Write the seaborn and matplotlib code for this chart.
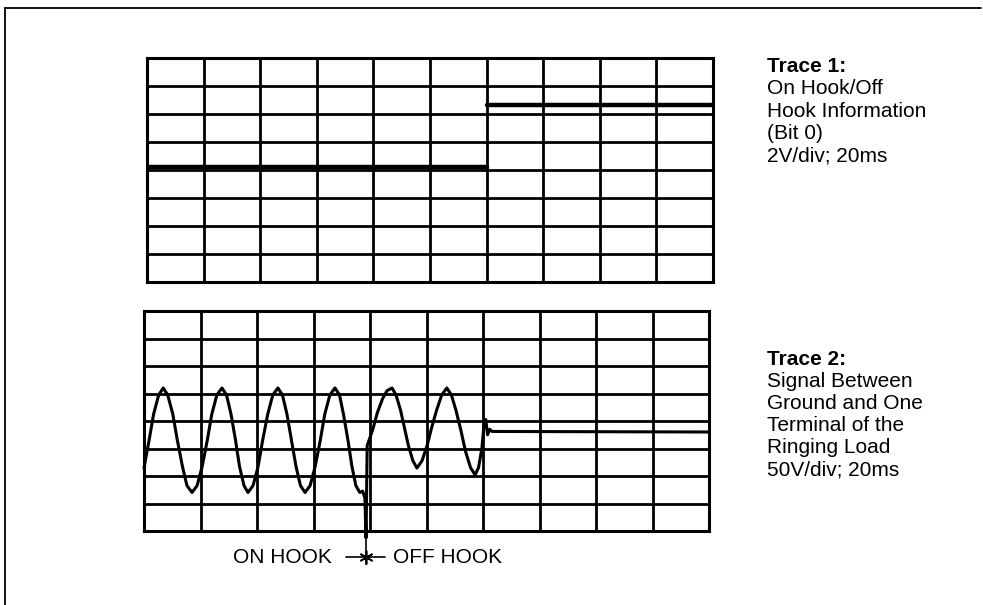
import numpy as np
import pandas as pd
import matplotlib
matplotlib.use("Agg")
import matplotlib.pyplot as plt
import seaborn as sns
from matplotlib.lines import Line2D

# ---------------- data (x in divisions, y in divisions) -------------
trace1_seg = [0, 0, 1, 1]
trace1_x = [0.0, 6.0, 6.0, 10.0]
trace1_y = [4.12, 4.12, 6.32, 6.32]

trace2_x = [0.00, 0.09, 0.17, 0.26, 0.34, 0.42, 0.51, 0.59, 0.68, 0.76, 0.85,
            0.94, 1.03, 1.12, 1.20, 1.29, 1.38, 1.46, 1.54, 1.62, 1.69, 1.77, 1.84,
            1.93, 2.02, 2.10, 2.19, 2.28, 2.37, 2.45, 2.53, 2.61, 2.69, 2.77, 2.85,
            2.94, 3.03, 3.12, 3.20, 3.29, 3.38, 3.46, 3.53, 3.61, 3.68, 3.75, 3.82,
            3.87, 3.91, 3.93, 3.95, 4.05, 4.13, 4.22, 4.30, 4.39,
            4.46, 4.54, 4.61, 4.68, 4.76, 4.83,
            4.92, 5.01, 5.09, 5.18, 5.27, 5.36, 5.44, 5.52, 5.61, 5.69, 5.78, 5.86,
            5.92, 5.98, 6.02, 6.05, 6.08, 6.12, 6.16, 10.0]
trace2_y = [2.29, 3.30, 4.25, 4.95, 5.20, 4.95, 4.25, 3.30, 2.35, 1.65, 1.40,
            1.65, 2.35, 3.30, 4.25, 4.95, 5.20, 4.95, 4.25, 3.30, 2.35, 1.65, 1.40,
            1.65, 2.35, 3.30, 4.25, 4.95, 5.20, 4.95, 4.25, 3.30, 2.35, 1.65, 1.40,
            1.65, 2.35, 3.30, 4.25, 4.95, 5.20, 4.95, 4.25, 3.30, 2.35, 1.65, 1.40,
            1.45, 1.20, -0.25, 3.10, 3.70, 4.30, 4.80, 5.10, 5.20,
            4.95, 4.40, 3.75, 3.10, 2.55, 2.29,
            2.55, 3.10, 3.75, 4.40, 4.95, 5.20, 4.95, 4.40, 3.65, 2.90, 2.30, 2.04,
            2.30, 3.00, 3.90, 4.05, 3.50, 3.70, 3.62, 3.60]

x_divs = list(range(11))
y_divs = list(range(9))

trace1_text = ["Trace 1:", "On Hook/Off", "Hook Information", "(Bit 0)", "2V/div; 20ms"]
trace2_text = ["Trace 2:", "Signal Between", "Ground and One", "Terminal of the",
               "Ringing Load", "50V/div; 20ms"]
on_label = "ON HOOK"
off_label = "OFF HOOK"
switch_x = 3.93

# ---------------- figure ----------------
sns.set_theme(style="white")
plt.rcParams["font.family"] = ["Liberation Sans", "DejaVu Sans"]
plt.rcParams["text.color"] = "black"

W, H = 983, 605
fig = plt.figure(figsize=(W / 100, H / 100), dpi=100)
fig.patch.set_facecolor("white")

def fx(px):
    return px / W

def fy(py):
    return 1 - py / H

ax1 = fig.add_axes([fx(147), fy(282), fx(713) - fx(147), fy(58) - fy(282)])
ax2 = fig.add_axes([fx(144), fy(531), fx(709) - fx(144), fy(311) - fy(531)])

for ax in (ax1, ax2):
    ax.set_xlim(0, 10)
    ax.set_ylim(0, 8)
    ax.set_xticks(x_divs)
    ax.set_yticks(y_divs)
    ax.tick_params(length=0, labelbottom=False, labelleft=False)
    ax.grid(True, color="black", linewidth=2.0)
    ax.set_axisbelow(True)
    for s in ax.spines.values():
        s.set_color("black")
        s.set_linewidth(2.2)
    ax.set_facecolor("white")

df1 = pd.DataFrame({"x": trace1_x, "y": trace1_y, "seg": trace1_seg})
sns.lineplot(data=df1, x="x", y="y", units="seg", estimator=None, sort=False,
             color="black", linewidth=3.2, ax=ax1)

df2 = pd.DataFrame({"x": trace2_x, "y": trace2_y})
sns.lineplot(data=df2, x="x", y="y", sort=False, estimator=None,
             color="black", linewidth=2.2, ax=ax2)
for line in ax2.get_lines():
    line.set_clip_on(False)
    line.set_solid_joinstyle("round")
ax1.set_xlabel(""); ax1.set_ylabel("")
ax2.set_xlabel(""); ax2.set_ylabel("")

# annotation: ON HOOK -*- OFF HOOK
ann_y = -0.95
ax2.plot([switch_x, switch_x], [-0.25, -1.2], color="black", linewidth=1.2, clip_on=False)
ax2.plot([3.58, 4.27], [ann_y, ann_y], color="black", linewidth=1.2, clip_on=False)
ax2.plot([switch_x], [ann_y], marker=(6, 2, 0), markersize=10, color="black",
         markeredgewidth=1.2, clip_on=False)
fig.text(fx(332), fy(563), on_label, ha="right", va="baseline", fontsize=15, color="black")
fig.text(fx(393), fy(563), off_label, ha="left", va="baseline", fontsize=15, color="black")

# side text
base1 = [72, 94.5, 117, 139, 161]
for i, (t, b) in enumerate(zip(trace1_text, base1)):
    fig.text(fx(767), fy(b), t, ha="left", va="baseline", fontsize=15, color="black",
             fontweight="bold" if i == 0 else "normal")
base2 = [365, 387, 409, 431, 453, 475]
for i, (t, b) in enumerate(zip(trace2_text, base2)):
    fig.text(fx(767), fy(b), t, ha="left", va="baseline", fontsize=15, color="black",
             fontweight="bold" if i == 0 else "normal")

# outer frame (top and left)
fig.add_artist(Line2D([fx(5), fx(981)], [fy(8), fy(8)], color="black", linewidth=1.3,
                      transform=fig.transFigure))
fig.add_artist(Line2D([fx(5), fx(5)], [fy(8), fy(605)], color="black", linewidth=1.3,
                      transform=fig.transFigure))

fig.savefig("out.png", dpi=100, facecolor="white")
